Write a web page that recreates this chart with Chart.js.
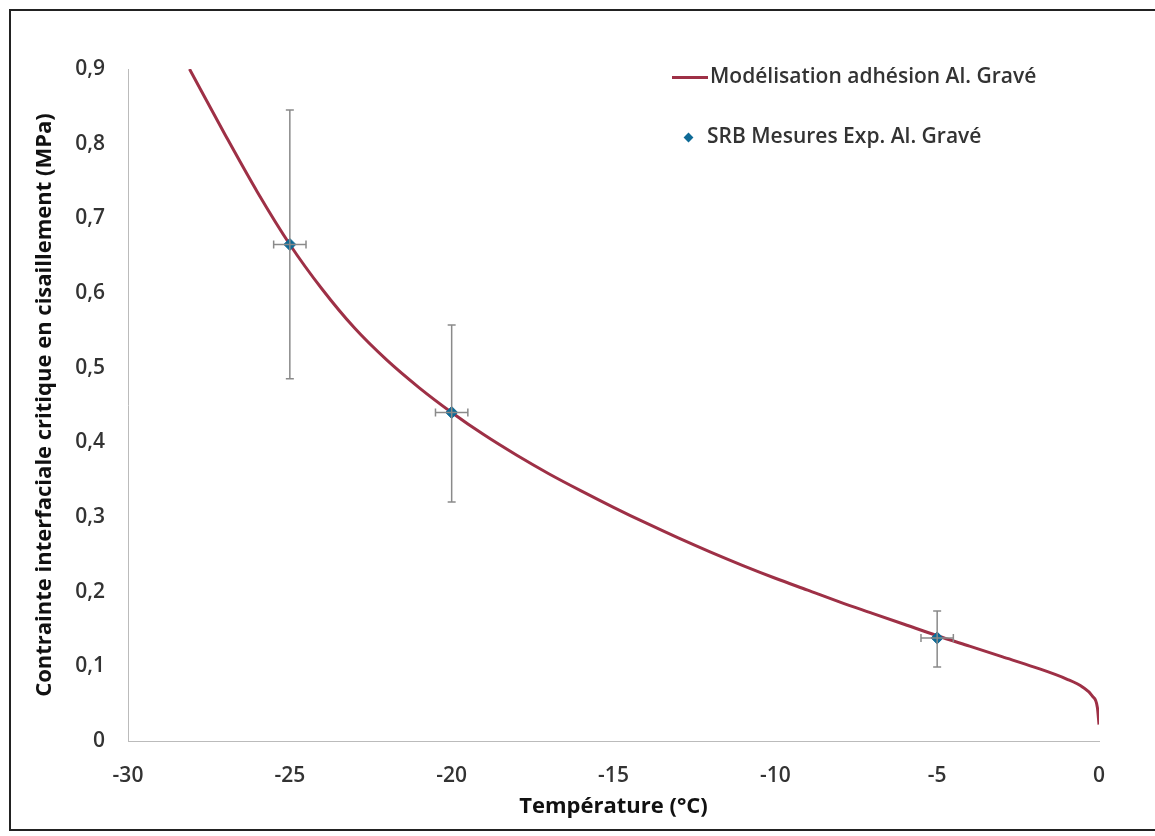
<!DOCTYPE html>
<html>
<head>
<meta charset="utf-8">
<script src="https://cdn.jsdelivr.net/npm/chart.js@4/dist/chart.umd.min.js"></script>
<style>
  html, body { margin: 0; padding: 0; background: #fff; }
  #wrap { position: relative; width: 1155px; height: 836px; }
  #frame { position: absolute; left: 9px; top: 9px; width: 1150px; height: 822px; border: 2px solid #222; border-right: none; box-sizing: border-box; pointer-events: none; }
  .legend { position: absolute; font-family: "Open Sans", sans-serif; font-size: 21px; font-weight: 600; color: #333; white-space: nowrap; line-height: 28px; }
  .legend .ln { display: inline-block; width: 36px; height: 3px; background: #9e3046; vertical-align: middle; margin-right: 2px; }
  .legend .dm { display: inline-block; width: 7px; height: 7px; background: #0e6a96; transform: rotate(45deg); vertical-align: middle; margin: 0 15px 0 13px; }
</style>
</head>
<body>
<div id="wrap">
  <canvas id="chart" width="1155" height="836"></canvas>
  <div id="frame"></div>
  <div class="legend" style="left:672px; top:61px;"><span class="ln"></span>Modélisation adhésion Al. Gravé</div>
  <div class="legend" style="left:672px; top:121px;"><span class="dm"></span>SRB Mesures Exp. Al. Gravé</div>
</div>
<script>
// === DONNEES ===
// courbe du modèle (température °C -> contrainte MPa)
const modelTemp = [-28.1, -27, -26, -25, -24, -23, -22, -21, -20, -19, -18, -17, -16, -15, -14, -13, -12, -11, -10, -9, -8, -7, -6, -5, -4, -3, -2, -1, -0.5, -0.2, -0.05, 0];
const modelStress = [0.9, 0.812, 0.735, 0.665, 0.605, 0.553, 0.51, 0.473, 0.44, 0.41, 0.383, 0.358, 0.335, 0.313, 0.292, 0.272, 0.253, 0.235, 0.218, 0.202, 0.186, 0.171, 0.156, 0.141, 0.127, 0.113, 0.099, 0.083, 0.072, 0.06, 0.045, 0.022];

// mesures expérimentales
const expTemp = [-25, -20, -5];
const expStress = [0.665, 0.44, 0.138];
const expErrLow = [0.485, 0.32, 0.099];
const expErrHigh = [0.845, 0.557, 0.174];
const expTempErr = [0.5, 0.5, 0.5];

const xTicks = [-30, -25, -20, -15, -10, -5, 0];

const fmt = v => v === 0 ? "0" : String(Math.round(v * 10) / 10).replace(".", ",");

// barres d'erreur
const errorBars = {
  id: "errorBars",
  afterDatasetsDraw(chart) {
    const { ctx, scales: { x, y } } = chart;
    ctx.save();
    ctx.strokeStyle = "#8a8a8a";
    ctx.lineWidth = 1.5;
    const cap = 4;
    expTemp.forEach((t, i) => {
      const px = x.getPixelForValue(t);
      const py = y.getPixelForValue(expStress[i]);
      const yTop = y.getPixelForValue(expErrHigh[i]);
      const yBot = y.getPixelForValue(expErrLow[i]);
      const xL = x.getPixelForValue(t - expTempErr[i]);
      const xR = x.getPixelForValue(t + expTempErr[i]);
      ctx.beginPath();
      ctx.moveTo(px, yTop); ctx.lineTo(px, yBot);
      ctx.moveTo(px - cap, yTop); ctx.lineTo(px + cap, yTop);
      ctx.moveTo(px - cap, yBot); ctx.lineTo(px + cap, yBot);
      ctx.moveTo(xL, py); ctx.lineTo(xR, py);
      ctx.moveTo(xL, py - cap); ctx.lineTo(xL, py + cap);
      ctx.moveTo(xR, py - cap); ctx.lineTo(xR, py + cap);
      ctx.stroke();
    });
    ctx.restore();
  }
};

new Chart(document.getElementById("chart"), {
  type: "scatter",
  data: {
    datasets: [
      {
        label: "SRB Mesures Exp. Al. Gravé",
        data: expTemp.map((t, i) => ({ x: t, y: expStress[i] })),
        pointStyle: "rectRot",
        pointRadius: 6,
        backgroundColor: "#0e6a96",
        borderColor: "#0e6a96",
        order: 0
      },
      {
        label: "Modélisation adhésion Al. Gravé",
        data: modelTemp.map((t, i) => ({ x: t, y: modelStress[i] })),
        showLine: true,
        pointRadius: 0,
        borderColor: "#9e3046",
        borderWidth: 3,
        cubicInterpolationMode: "monotone",
        order: 1
      }
    ]
  },
  options: {
    responsive: false,
    animation: false,
    layout: { padding: { top: 69, right: 56, left: 0, bottom: 0 } },
    plugins: { legend: { display: false }, tooltip: { enabled: false } },
    scales: {
      x: {
        min: -30, max: 0,
        afterFit: s => { s.height = 95; },
        afterBuildTicks: s => { s.ticks = xTicks.map(v => ({ value: v })); },
        grid: { display: false, drawTicks: true, tickLength: 6, tickColor: "#bbb" },
        border: { color: "#bbb", width: 1 },
        ticks: { padding: 16, color: "#333", font: { family: "Open Sans", size: 21, weight: "600" }, callback: v => fmt(v), maxRotation: 0 },
        title: { display: true, text: "Température (°C)", color: "#111", font: { family: "Open Sans", size: 22, weight: "bold" }, padding: { top: 0, bottom: 16 } }
      },
      y: {
        min: 0, max: 0.9,
        afterFit: s => { s.width = 128; },
        grid: { display: false, drawTicks: true, tickLength: 6, tickColor: "#bbb" },
        border: { color: "#bbb", width: 1 },
        ticks: { stepSize: 0.1, padding: 17, color: "#333", font: { family: "Open Sans", size: 21, weight: "600" }, callback: v => fmt(v) },
        title: { display: true, text: "Contrainte interfaciale critique en cisaillement (MPa)", color: "#111", font: { family: "Open Sans", size: 22, weight: "bold" }, padding: { top: 32, bottom: 0 } }
      }
    }
  },
  plugins: [errorBars]
});
</script>
</body>
</html>
